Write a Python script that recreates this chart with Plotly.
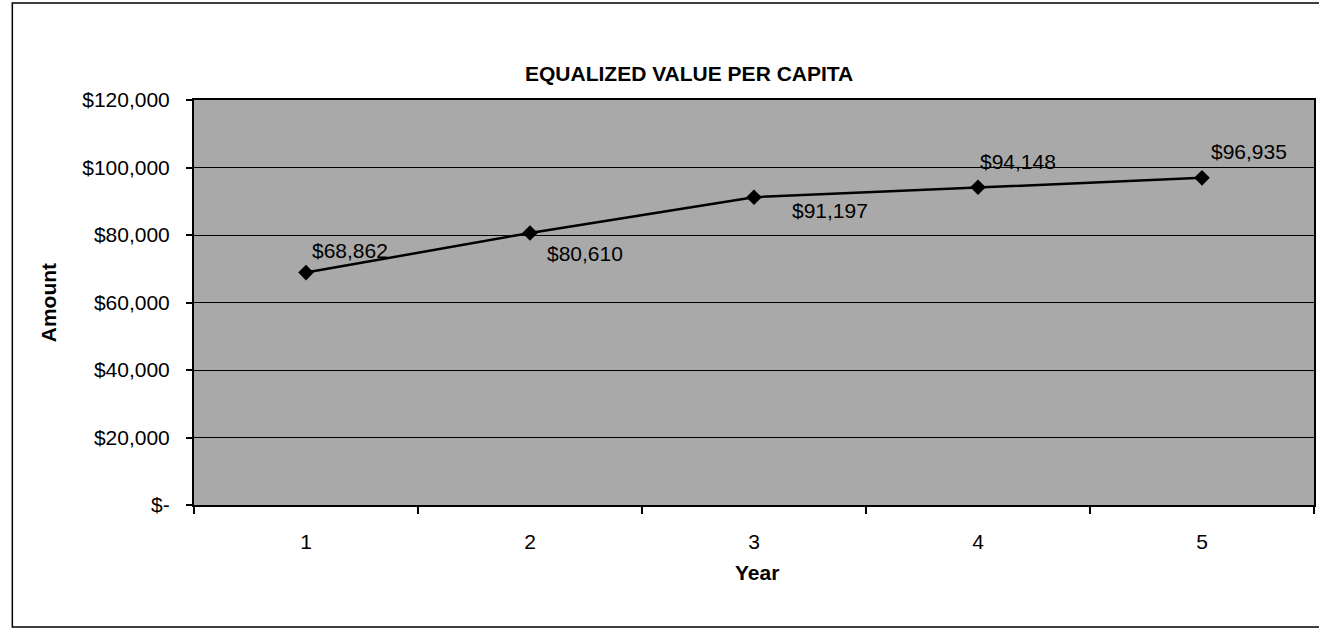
import plotly.graph_objects as go

years = ["1", "2", "3", "4", "5"]
values = [68862, 80610, 91197, 94148, 96935]
labels = ["$68,862", "$80,610", "$91,197", "$94,148", "$96,935"]
ytick_vals = [0, 20000, 40000, 60000, 80000, 100000, 120000]
ytick_text = ["$-", "$20,000", "$40,000", "$60,000", "$80,000", "$100,000", "$120,000"]

# label offsets (style)
label_dx = [4, 15, 36, 0, 7]
label_dy = [22, -21, -13, 26, 26]

FONT = "Arial, Liberation Sans, sans-serif"
W, H = 1319, 628
L, R, T, B = 194, 1316, 100, 505

fig = go.Figure()
fig.add_trace(go.Scatter(
    x=years, y=values, mode="lines+markers",
    line=dict(color="black", width=2.5),
    marker=dict(symbol="diamond", size=12, color="black"),
    hoverinfo="skip", showlegend=False,
))

annotations = []
for i, (v, t, dx, dy) in enumerate(zip(values, labels, label_dx, label_dy)):
    annotations.append(dict(x=i, y=v, xref="x", yref="y", text=t, showarrow=False,
                            xanchor="left", yanchor="middle", xshift=dx, yshift=dy,
                            font=dict(family=FONT, size=21, color="black")))

def px_x(p):
    return (p - L) / (R - L)

def px_y(p):
    return (B - p) / (B - T)

annotations.append(dict(x=px_x(690), y=px_y(73), xref="paper", yref="paper",
                        text="<b>EQUALIZED VALUE PER CAPITA</b>", showarrow=False,
                        xanchor="center", yanchor="middle",
                        font=dict(family=FONT, size=21, color="black")))
annotations.append(dict(x=px_x(48), y=px_y(303), xref="paper", yref="paper",
                        text="<b>Amount</b>", showarrow=False, textangle=-90,
                        xanchor="center", yanchor="middle",
                        font=dict(family=FONT, size=21, color="black")))
annotations.append(dict(x=px_x(758), y=px_y(572), xref="paper", yref="paper",
                        text="<b>Year</b>", showarrow=False,
                        xanchor="center", yanchor="middle",
                        font=dict(family=FONT, size=21, color="black")))

fig.update_layout(
    width=W, height=H,
    margin=dict(l=L, r=W - R, t=T, b=H - B),
    paper_bgcolor="white",
    plot_bgcolor="#a9a9a9",
    annotations=annotations,
    shapes=[dict(type="rect", xref="paper", yref="paper",
                 x0=px_x(12), x1=px_x(1330), y0=px_y(627), y1=px_y(3),
                 line=dict(color="black", width=1.5), layer="below")],
    xaxis=dict(
        type="category", range=[-0.5, 4.5], tickson="boundaries",
        ticks="outside", ticklen=7, tickcolor="black", tickwidth=1.5,
        showline=True, linecolor="black", linewidth=2, mirror=True,
        showgrid=False, zeroline=False,
        tickfont=dict(family=FONT, size=21, color="black"),
        ticklabelstandoff=17,
    ),
    yaxis=dict(
        range=[0, 120000], tickvals=ytick_vals, ticktext=ytick_text,
        ticks="outside", ticklen=6, tickcolor="black", tickwidth=1.5,
        showline=True, linecolor="black", linewidth=2, mirror=True,
        showgrid=True, gridcolor="black", gridwidth=1,
        zeroline=False,
        tickfont=dict(family=FONT, size=21, color="black"),
        ticklabelstandoff=12,
    ),
)

fig.write_html("out.html", config={"displayModeBar": False},
               post_script="document.body.style.margin='0';document.body.style.overflow='hidden';")
